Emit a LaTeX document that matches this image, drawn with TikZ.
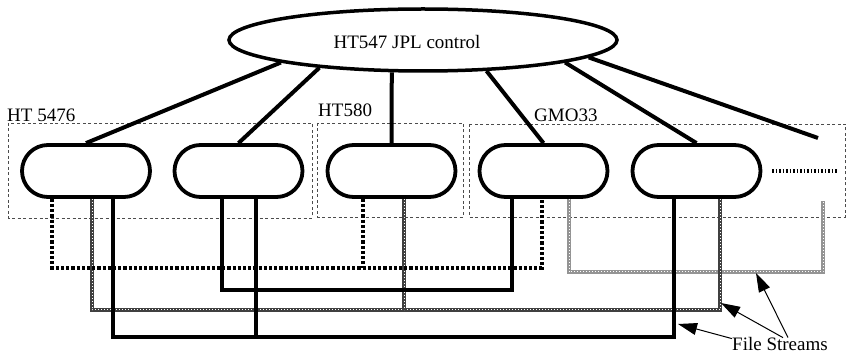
\documentclass[tikz,border=0pt]{standalone}
\usepackage{fontspec}
\setmainfont{Liberation Serif}
\usetikzlibrary{arrows.meta,shapes.geometric}
\begin{document}
\begin{tikzpicture}[x=1pt,y=-1pt,
  txt/.style={font=\fontsize{19}{22}\selectfont, inner sep=0pt},
  grplabel/.style={txt, fill=white, anchor=base west},
  unit/.style={draw, line width=3.8pt, rounded corners=26pt, minimum width=128pt, minimum height=52pt, inner sep=0pt},
  ctrl/.style={draw, ellipse, line width=3.5pt, minimum width=388pt, minimum height=62pt, inner sep=0pt},
  fan/.style={line width=4pt},
  grp/.style={draw=black!70, line width=0.8pt, dash pattern=on 3pt off 2.5pt},
  hatch/.style={line width=4pt, dash pattern=on 3.2pt off 2pt},
  solid stream/.style={line width=3.6pt},
  dgray/.style={line width=3.6pt, draw=black!75, postaction={draw=white, line width=1pt, dash pattern=on 1pt off 2pt}},
  lgray/.style={line width=3.6pt, draw=black!42, postaction={draw=white, line width=1pt, dash pattern=on 1pt off 2pt}},
  ticks/.style={line width=4.5pt, dash pattern=on 1.5pt off 2pt},
  pointer/.style={line width=1pt, -{Triangle[length=19pt,width=12pt]}}
]
\useasboundingbox (0,0) rectangle (846,355);

% groups
\draw[grp] (8,123) rectangle (312,218);
\draw[grp] (317,123) rectangle (463,217);
\draw[grp] (469,124) rectangle (845,217);
\node[grplabel] (g1) at (7,122) {HT 5476};
\node[grplabel] (g2) at (318,117) {HT580};
\node[grplabel] (g3) at (534,122) {GMO33};

% control
\node[ctrl] (ctl) at (423,40) {};
\node[txt, anchor=base] (ctltxt) at (407,49) {HT547 JPL control};

% units
\node[unit] (b1) at (86,171) {};
\node[unit] (b2) at (238.5,171) {};
\node[unit] (b3) at (391.5,171) {};
\node[unit] (b4) at (543.5,171) {};
\node[unit] (b5) at (696.5,171) {};
\coordinate (more) at (818,138);
\draw[ticks] (772,171) -- (838,171);

% fan-out
\draw[fan] (ctl.189.3) -- (b1.north);
\draw[fan] (ctl.195.4) -- (b2.north);
\draw[fan] (ctl.226) -- (b3.north);
\draw[fan] (ctl.334.4) -- (b4.north);
\draw[fan] (ctl.351.3) -- (b5.north);
\draw[fan] (ctl.354.6) -- (more);

% streams
\coordinate (eTop) at (823,201);
\draw[lgray] ([xshift=25.5pt]b4.south) -- ++(0,73) -| (eTop);
\draw[dgray] ([xshift=6pt]b1.south) -- ++(0,111) -| ([xshift=23.5pt]b5.south);
\draw[dgray] ([xshift=12.5pt]b3.south) -- ++(0,111);
\draw[solid stream] ([xshift=-16.5pt]b2.south) -- ++(0,91) -| ([xshift=-31.5pt]b4.south);
\draw[solid stream] ([xshift=27pt]b1.south) -- ++(0,138) -| ([xshift=-22.5pt]b5.south);
\draw[solid stream] ([xshift=17.5pt]b2.south) -- ++(0,138);
\draw[hatch] ([xshift=-34pt]b1.south) -- ++(0,69) -| ([xshift=-1.5pt]b4.south);
\draw[hatch] ([xshift=-28.5pt]b3.south) -- ++(0,69);

% label with pointers
\node[txt, anchor=base west] (fs) at (732,350) {File Streams};
\coordinate (t1) at (678,324);
\coordinate (t2) at (721,303);
\coordinate (t3) at (756,273);
\draw[pointer] ([yshift=-2pt]fs.north west) -- (t1);
\draw[pointer] ([xshift=51pt,yshift=-1pt]fs.north west) -- (t2);
\draw[pointer] ([xshift=56pt,yshift=-1pt]fs.north west) -- (t3);
\end{tikzpicture}
\end{document}
